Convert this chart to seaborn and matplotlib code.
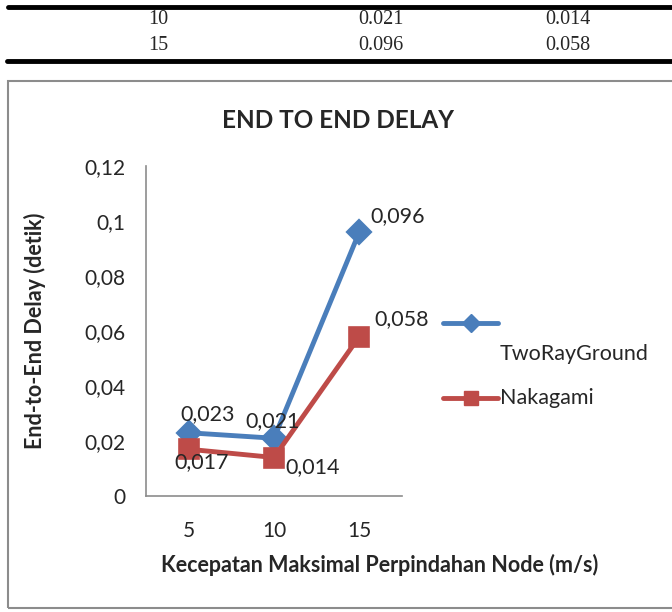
import pandas as pd
import seaborn as sns
import matplotlib.pyplot as plt
from matplotlib.lines import Line2D
from matplotlib.patches import Rectangle

# data
speeds = ['5', '10', '15']
tworay = [0.023, 0.021, 0.096]
nakagami = [0.017, 0.014, 0.058]
series_names = ['TwoRayGround', 'Nakagami']
yticks = [0, 0.02, 0.04, 0.06, 0.08, 0.1, 0.12]
ytick_labels = ['0', '0,02', '0,04', '0,06', '0,08', '0,1', '0,12']

# table rows visible above the chart
table_rows = [['10', '0.021', '0.014'], ['15', '0.096', '0.058']]

df = pd.DataFrame({
    'speed': speeds * 2,
    'delay': tworay + nakagami,
    'model': [series_names[0]] * 3 + [series_names[1]] * 3,
})

sns.set_style('white')
plt.rcParams['font.family'] = ['Lato', 'DejaVu Sans']

blue = '#4A7EBB'
red = '#BE4B48'

fig = plt.figure(figsize=(6.72, 6.12), dpi=100)
W, H = 672, 612

# table fragment
fig.add_artist(Line2D([8 / W, 1], [1 - 7 / H, 1 - 7 / H], color='black', lw=3.5))
fig.add_artist(Line2D([7 / W, 1], [1 - 61 / H, 1 - 61 / H], color='black', lw=3.5))
col_x = [158, 381, 568]
row_y = [20, 46]
for row, yy in zip(table_rows, row_y):
    for txt, xx in zip(row, col_x):
        fig.text(xx / W, 1 - yy / H, txt, ha='center', va='center',
                 family='Liberation Serif', fontsize=14.5)

# chart frame
fig.add_artist(Rectangle((8 / W, 4 / H), 1.0, (608 - 81) / H, fill=False,
                         edgecolor='#8c8c8c', lw=1.5))

ax = fig.add_axes([146 / W, 1 - 496 / H, 256 / W, 330 / H])
sns.pointplot(data=df, x='speed', y='delay', hue='model', order=speeds,
              palette=[blue, red], markers=['D', 's'], linestyles=['-', '-'],
              errorbar=None, dodge=False, markersize=11, linewidth=3.5,
              legend=False, ax=ax)
for line, ms in zip(ax.lines, [11, 13]):
    line.set_markersize(ms)

ax.set_xlim(-0.5, 2.5)
ax.set_ylim(0, 0.12)
ax.set_yticks(yticks)
ax.set_yticklabels(ytick_labels)
ax.tick_params(axis='y', length=7, width=1, color='#8c8c8c', pad=8, labelsize=15)
ax.tick_params(axis='x', length=0, pad=18, labelsize=15)
for side in ['top', 'right']:
    ax.spines[side].set_visible(False)
for side in ['left', 'bottom']:
    ax.spines[side].set_color('#8c8c8c')
    ax.spines[side].set_linewidth(1.2)

ax.set_xlabel('Kecepatan Maksimal Perpindahan Node (m/s)', fontsize=15.5,
              fontweight='bold')
ax.xaxis.label.set_va('center')
ax.xaxis.set_label_coords(0.914, -0.209)
ax.set_ylabel('End-to-End Delay (detik)', fontsize=15.5, fontweight='bold')
ax.yaxis.label.set_va('center')
ax.yaxis.set_label_coords(-0.435, 0.5)

fig.text(338 / W, 1 - 120 / H, 'END TO END DELAY', ha='center', va='center',
         fontsize=17.5, fontweight='bold')

# data labels
fmt = lambda v: f'{v:.3f}'.replace('.', ',')
offsets_a = [(0.22, 0.0069), (-0.02, 0.0062), (0.445, 0.0058)]
offsets_b = [(0.15, -0.0047), (0.45, -0.0036), (0.49, 0.0062)]
for i, v in enumerate(tworay):
    dx, dy = offsets_a[i]
    ax.text(i + dx, v + dy, fmt(v), ha='center', va='center', fontsize=15.5,
            clip_on=False)
for i, v in enumerate(nakagami):
    dx, dy = offsets_b[i]
    ax.text(i + dx, v + dy, fmt(v), ha='center', va='center', fontsize=15.5,
            clip_on=False)

# legend, drawn like the original with a wrapped first label
fig.add_artist(Line2D([443 / W, 470.5 / W, 498 / W], [1 - 323 / H] * 3, color=blue,
                      lw=3.5, marker='D', markersize=9, markevery=[1],
                      solid_capstyle='round'))
fig.text(500 / W, 1 - 354 / H, series_names[0], ha='left', va='center', fontsize=15.5)
fig.add_artist(Line2D([443 / W, 470.5 / W, 498 / W], [1 - 398 / H] * 3, color=red,
                      lw=3.5, marker='s', markersize=10, markevery=[1],
                      solid_capstyle='round'))
fig.text(500 / W, 1 - 398 / H, series_names[1], ha='left', va='center', fontsize=15.5)

fig.savefig('out.png', dpi=100)
